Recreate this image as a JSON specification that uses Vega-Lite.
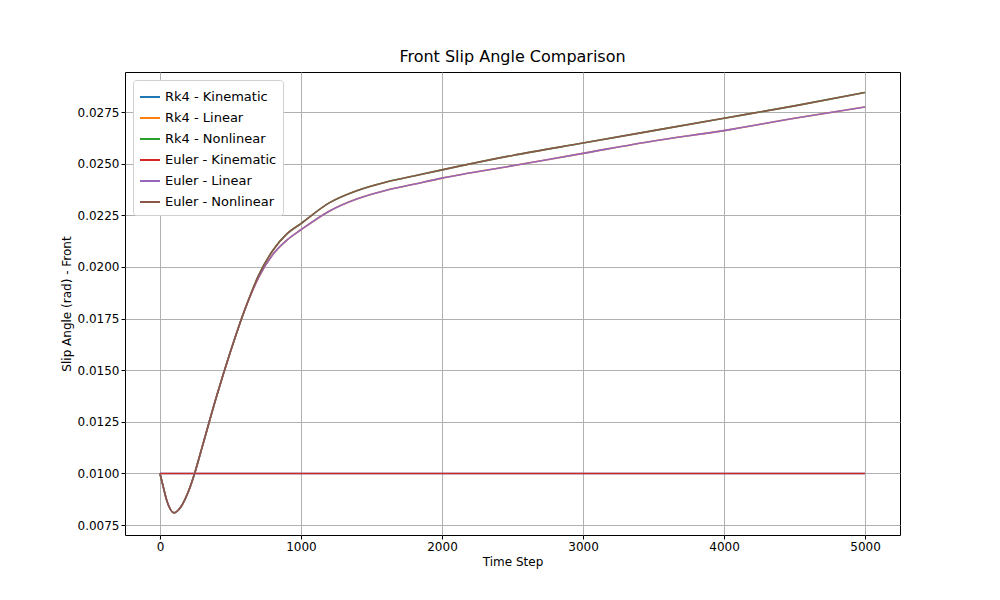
{
  "$schema": "https://vega.github.io/schema/vega-lite/v6.json",
  "width": 775,
  "height": 463,
  "autosize": {"type": "none"},
  "padding": {"left": 125, "top": 72, "right": 100, "bottom": 65},
  "background": "white",
  "title": {"text": "Front Slip Angle Comparison", "fontSize": 16, "font": "DejaVu Sans", "fontWeight": "normal", "offset": 7},
  "config": {
    "font": "DejaVu Sans",
    "view": {"stroke": "black", "strokeWidth": 1},
    "axis": {"labelFontSize": 12, "titleFontSize": 12, "titleFontWeight": "normal", "labelColor": "black", "titleColor": "black", "gridColor": "#b0b0b0", "gridWidth": 1, "gridOpacity": 1, "tickColor": "black", "domain": false, "tickSize": 4}
  },
  "data": {"values": [
    {"t": 0, "kin": 0.01, "lin": 0.01, "non": 0.01},
    {"t": 25, "kin": 0.01, "lin": 0.0093, "non": 0.0093},
    {"t": 50, "kin": 0.01, "lin": 0.00865, "non": 0.00865},
    {"t": 100, "kin": 0.01, "lin": 0.0081, "non": 0.0081},
    {"t": 150, "kin": 0.01, "lin": 0.0084, "non": 0.0084},
    {"t": 200, "kin": 0.01, "lin": 0.0091, "non": 0.0091},
    {"t": 250, "kin": 0.01, "lin": 0.0101, "non": 0.0101},
    {"t": 300, "kin": 0.01, "lin": 0.0113, "non": 0.0113},
    {"t": 400, "kin": 0.01, "lin": 0.0137, "non": 0.0137},
    {"t": 500, "kin": 0.01, "lin": 0.0159, "non": 0.0159},
    {"t": 600, "kin": 0.01, "lin": 0.0179, "non": 0.0179},
    {"t": 700, "kin": 0.01, "lin": 0.0195, "non": 0.0196},
    {"t": 800, "kin": 0.01, "lin": 0.0206, "non": 0.0208},
    {"t": 900, "kin": 0.01, "lin": 0.0213, "non": 0.0216},
    {"t": 1000, "kin": 0.01, "lin": 0.0218, "non": 0.0221},
    {"t": 1200, "kin": 0.01, "lin": 0.0227, "non": 0.0231},
    {"t": 1400, "kin": 0.01, "lin": 0.0233, "non": 0.0237},
    {"t": 1600, "kin": 0.01, "lin": 0.0237, "non": 0.0241},
    {"t": 1800, "kin": 0.01, "lin": 0.0240, "non": 0.0244},
    {"t": 2000, "kin": 0.01, "lin": 0.0243, "non": 0.0247},
    {"t": 2500, "kin": 0.01, "lin": 0.0249, "non": 0.0254},
    {"t": 3000, "kin": 0.01, "lin": 0.0255, "non": 0.0260},
    {"t": 3500, "kin": 0.01, "lin": 0.0261, "non": 0.0266},
    {"t": 4000, "kin": 0.01, "lin": 0.0266, "non": 0.0272},
    {"t": 4500, "kin": 0.01, "lin": 0.0272, "non": 0.0278},
    {"t": 5000, "kin": 0.01, "lin": 0.02775, "non": 0.02845}
  ]},
  "transform": [
    {"fold": ["kin", "lin", "non"], "as": ["model", "value"]},
    {"lookup": "model", "from": {"data": {"values": [
      {"model": "kin", "name": "Kinematic", "o": 0},
      {"model": "lin", "name": "Linear", "o": 1},
      {"model": "non", "name": "Nonlinear", "o": 2}
    ]}, "key": "model", "fields": ["name", "o"]}}
  ],
  "encoding": {
    "x": {"field": "t", "type": "quantitative", "title": "Time Step", "scale": {"domain": [-248, 5248], "nice": false, "zero": false}, "axis": {"values": [0, 1000, 2000, 3000, 4000, 5000], "format": "d"}},
    "y": {"field": "value", "type": "quantitative", "title": "Slip Angle (rad) - Front", "scale": {"domain": [0.00702, 0.02944], "nice": false, "zero": false}, "axis": {"values": [0.0075, 0.01, 0.0125, 0.015, 0.0175, 0.02, 0.0225, 0.025, 0.0275], "format": ".4f"}},
    "color": {"field": "series", "type": "nominal",
      "scale": {"domain": ["Rk4 - Kinematic", "Rk4 - Linear", "Rk4 - Nonlinear", "Euler - Kinematic", "Euler - Linear", "Euler - Nonlinear"],
                "range": ["#1f77b4", "#ff7f0e", "#2ca02c", "#d62728", "#9467bd", "#8c564b"]},
      "legend": {"title": null, "orient": "top-left", "offset": 8, "labelFontSize": 13, "symbolType": "stroke", "symbolSize": 400, "symbolStrokeWidth": 2, "strokeColor": "#d0d0d0", "fillColor": "white", "padding": 6, "cornerRadius": 3, "rowPadding": 3}
    },
    "order": {"field": "o"}
  },
  "layer": [
    {"transform": [{"calculate": "'Rk4 - ' + datum.name", "as": "series"}],
     "mark": {"type": "line", "interpolate": "monotone", "strokeWidth": 1.6}},
    {"transform": [{"calculate": "'Euler - ' + datum.name", "as": "series"}],
     "mark": {"type": "line", "interpolate": "monotone", "strokeWidth": 1.6}}
  ]
}
